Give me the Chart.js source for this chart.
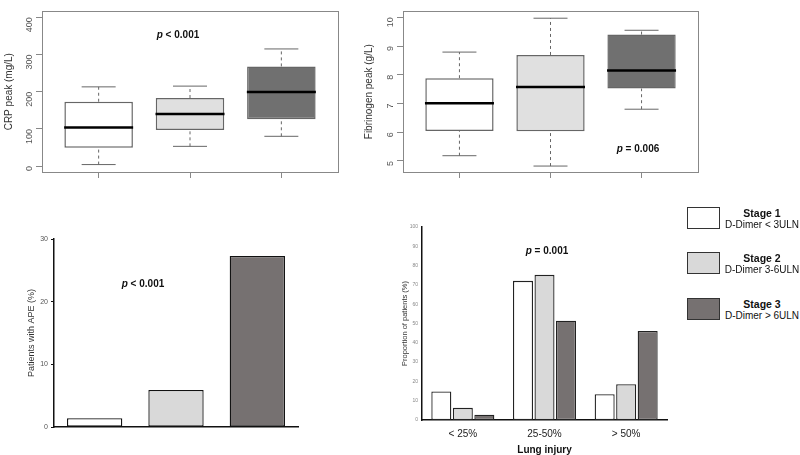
<!DOCTYPE html>
<html><head><meta charset="utf-8">
<script src="https://cdn.jsdelivr.net/npm/chart.js@4/dist/chart.umd.min.js"></script>
<style>
html,body{margin:0;padding:0;background:#fff;}
#wrap{position:relative;width:800px;height:455px;overflow:hidden;font-family:"Liberation Sans",Arial,sans-serif;}
canvas{position:absolute;}
.pv{position:absolute;font-weight:bold;font-size:10px;color:#111;white-space:nowrap;transform:translate(-50%,-50%);}
.lg-box{position:absolute;width:33px;height:22px;box-sizing:border-box;border:1.5px solid #333;}
.lg-t{position:absolute;transform:translateX(-50%);text-align:center;white-space:nowrap;font-size:10px;line-height:11px;color:#111;}
.lg-t b{font-size:10.5px;}
</style></head>
<body>
<div id="wrap">
  <canvas id="crp" width="360" height="190" style="left:0;top:0;width:360px;height:190px"></canvas>
  <canvas id="fib" width="360" height="190" style="left:360px;top:0;width:360px;height:190px"></canvas>
  <canvas id="ape" width="340" height="250" style="left:0;top:200px;width:340px;height:250px"></canvas>
  <canvas id="lung" width="300" height="235" style="left:380px;top:220px;width:300px;height:235px"></canvas>
  <div class="pv" style="left:178px;top:34px"><i>p</i> &lt; 0.001</div>
  <div class="pv" style="left:638px;top:148px"><i>p</i> = 0.006</div>
  <div class="pv" style="left:143px;top:283px"><i>p</i> &lt; 0.001</div>
  <div class="pv" style="left:547px;top:250px"><i>p</i> = 0.001</div>
  <div id="legend"></div>
</div>
<script>
// ---- data ----
const stages = ['Stage 1', 'Stage 2', 'Stage 3'];
const stageNotes = ['D-Dimer < 3ULN', 'D-Dimer 3-6ULN', 'D-Dimer > 6ULN'];

const crpMin    = [4, 53, 80];
const crpQ1     = [49, 97, 126];
const crpMedian = [104, 140, 199];
const crpQ3     = [173, 183, 268];
const crpMax    = [213, 215, 315];
const crpTicks  = [0, 100, 200, 300, 400];

const fibMin    = [5.18, 4.82, 6.80];
const fibQ1     = [6.04, 6.03, 7.52];
const fibMedian = [7.01, 7.57, 8.15];
const fibQ3     = [7.88, 8.69, 9.40];
const fibMax    = [8.79, 9.97, 9.55];
const fibTicks  = [5, 6, 7, 8, 9, 10];

const apePct = [1.4, 5.9, 27.3];
const apeTicks = [0, 10, 20, 30];

const lungCategories = ['< 25%', '25-50%', '> 50%'];
const lungStage1 = [14.8, 72.1, 13.4];
const lungStage2 = [6.3, 75.2, 18.5];
const lungStage3 = [2.7, 51.4, 46.1];
const lungTicks = [0, 10, 20, 30, 40, 50, 60, 70, 80, 90, 100];

// ---- styles ----
const FONT = '"Liberation Sans", Arial, sans-serif';
Chart.defaults.font.family = FONT;
const boxFills = ['#ffffff', '#e0e0e0', '#707070'];
const barFills = ['#ffffff', '#d9d9d9', '#767171'];

const framePlugin = {
  id: 'frame',
  afterDraw(chart, args, opts) {
    if (!opts || !opts.show) return;
    const {ctx, chartArea: a} = chart;
    ctx.save();
    ctx.strokeStyle = opts.color;
    ctx.lineWidth = opts.width;
    ctx.strokeRect(Math.round(a.left) + 0.5, Math.round(a.top) + 0.5,
      Math.round(a.right - a.left), Math.round(a.bottom - a.top));
    ctx.restore();
  }
};

function rangeWithPad(lo, hi) { const d = (hi - lo) * 0.04; return [lo - d, hi + d]; }

function boxChart(id, mins, q1, med, q3, maxs, ticks, yRange, title, yWidth) {
  const xs = stages.map((s, i) => i + 1);
  const whisk = [];
  xs.forEach((x, i) => {
    whisk.push({x, y: mins[i]}, {x, y: q1[i]}, {x, y: null},
               {x, y: q3[i]}, {x, y: maxs[i]}, {x, y: null});
  });
  const caps = [];
  xs.forEach((x, i) => { caps.push({x, y: mins[i]}, {x, y: maxs[i]}); });
  return new Chart(document.getElementById(id), {
    type: 'bar',
    data: {
      datasets: [
        {type: 'line', label: 'median', data: xs.map((x, i) => ({x, y: med[i]})), showLine: false,
         pointStyle: 'line', pointRadius: 34.5, pointBorderWidth: 2.5, pointBorderColor: '#000', order: 0},
        {type: 'line', label: 'caps', data: caps, showLine: false,
         pointStyle: 'line', pointRadius: 17, pointBorderWidth: 1, pointBorderColor: '#666', order: 1},
        {type: 'line', label: 'whiskers', data: whisk, borderColor: '#666', borderWidth: 1,
         borderDash: [3, 3], pointRadius: 0, spanGaps: false, order: 2},
        {type: 'bar', label: 'IQR', data: xs.map((x, i) => ({x, y: [q1[i], q3[i]]})),
         backgroundColor: boxFills, borderColor: '#666', borderWidth: 1.5, borderSkipped: false,
         categoryPercentage: 1, barPercentage: 0.75, order: 3}
      ]
    },
    options: {
      responsive: false, animation: false, devicePixelRatio: 1, events: [],
      layout: {autoPadding: false, padding: {left: 0, top: 1, right: 22, bottom: 0}},
      plugins: {legend: {display: false}, tooltip: {enabled: false},
                frame: {show: true, color: '#888', width: 1}},
      scales: {
        x: {type: 'linear', min: 0.38, max: 3.62, offset: false,
            afterBuildTicks: s => { s.ticks = xs.map(v => ({value: v})); },
            ticks: {display: false},
            grid: {offset: false, drawOnChartArea: false, drawTicks: true, tickLength: 6, color: '#888'},
            border: {display: false},
            afterFit: s => { s.height = 18; }},
        y: {min: yRange[0], max: yRange[1],
            afterBuildTicks: s => { s.ticks = ticks.map(v => ({value: v})); },
            ticks: {minRotation: 90, maxRotation: 90, padding: 6, color: '#555', font: {size: 9}},
            grid: {drawOnChartArea: false, drawTicks: true, tickLength: 6, color: '#888'},
            border: {display: false},
            title: {display: true, text: title, color: '#333', font: {size: 10, lineHeight: 1},
                    padding: {top: 4, bottom: 0}},
            afterFit: s => { s.width = yWidth; }}
      }
    },
    plugins: [framePlugin]
  });
}

boxChart('crp', crpMin, crpQ1, crpMedian, crpQ3, crpMax, crpTicks,
  rangeWithPad(0, 400), 'CRP peak (mg/L)', 42);
boxChart('fib', fibMin, fibQ1, fibMedian, fibQ3, fibMax, fibTicks,
  rangeWithPad(Math.min(...fibMin), Math.max(...fibMax, 10)), 'Fibrinogen peak (g/L)', 43);

// APE bar chart
new Chart(document.getElementById('ape'), {
  type: 'bar',
  data: {labels: stages, datasets: [{label: 'APE', data: apePct, backgroundColor: barFills,
    borderColor: '#111', borderWidth: 1.3, borderSkipped: false,
    categoryPercentage: 1, barPercentage: 0.68}]},
  options: {
    responsive: false, animation: false, devicePixelRatio: 1, events: [],
    layout: {autoPadding: false, padding: {left: 0, top: 39, right: 42, bottom: 0}},
    plugins: {legend: {display: false}, tooltip: {enabled: false}},
    scales: {
      x: {grid: {display: false, drawTicks: false}, ticks: {display: false},
          border: {color: '#111', width: 1.5},
          afterFit: s => { s.height = 23; }},
      y: {min: 0, max: 30,
          afterBuildTicks: s => { s.ticks = apeTicks.map(v => ({value: v})); },
          ticks: {color: '#555', font: {size: 7}, padding: 3},
          grid: {drawOnChartArea: false, drawTicks: true, tickLength: 3, color: '#111'},
          border: {color: '#111', width: 1.5},
          title: {display: true, text: 'Patients with APE (%)', color: '#333',
                  font: {size: 9, lineHeight: 1}, padding: {top: 27.5, bottom: 0}},
          afterFit: s => { s.width = 54; }}
    }
  }
});

// Lung injury grouped bars
const lungSeries = [lungStage1, lungStage2, lungStage3];
new Chart(document.getElementById('lung'), {
  type: 'bar',
  data: {labels: lungCategories, datasets: lungSeries.map((d, i) => ({
    label: stages[i], data: d, backgroundColor: barFills[i], borderColor: '#222',
    borderWidth: 1.3, borderSkipped: false, categoryPercentage: 0.79, barPercentage: 0.93}))},
  options: {
    responsive: false, animation: false, devicePixelRatio: 1, events: [],
    layout: {autoPadding: false, padding: {left: 0, top: 4, right: 13, bottom: 0}},
    plugins: {legend: {display: false}, tooltip: {enabled: false}},
    scales: {
      x: {grid: {display: false, drawTicks: false},
          ticks: {color: '#222', font: {size: 10}, padding: 8},
          border: {color: '#111', width: 1.5},
          title: {display: true, text: 'Lung injury', color: '#111',
                  font: {size: 10, weight: 'bold', lineHeight: 1}, padding: {top: 0, bottom: 0}},
          afterFit: s => { s.height = 35; }},
      y: {min: 0, max: 100,
          afterBuildTicks: s => { s.ticks = lungTicks.map(v => ({value: v})); },
          ticks: {color: '#888', font: {size: 5}, padding: 4},
          grid: {display: false, drawTicks: false},
          border: {color: '#111', width: 1.5},
          title: {display: true, text: 'Proportion of patients (%)', color: '#333',
                  font: {size: 7.5, lineHeight: 1}, padding: {top: 21, bottom: 0}},
          afterFit: s => { s.width = 42; }}
    }
  }
});

// Legend (HTML)
const lgTops = [207, 252, 298];
const lg = document.getElementById('legend');
stages.forEach((s, i) => {
  const b = document.createElement('div');
  b.className = 'lg-box';
  b.style.left = '687px';
  b.style.top = lgTops[i] + 'px';
  b.style.background = barFills[i];
  lg.appendChild(b);
  const t = document.createElement('div');
  t.className = 'lg-t';
  t.style.left = '762px';
  t.style.top = (lgTops[i] + 1) + 'px';
  const bb = document.createElement('b');
  bb.textContent = s;
  t.appendChild(bb);
  t.appendChild(document.createElement('br'));
  t.appendChild(document.createTextNode(stageNotes[i]));
  lg.appendChild(t);
});
</script>
</body></html>
